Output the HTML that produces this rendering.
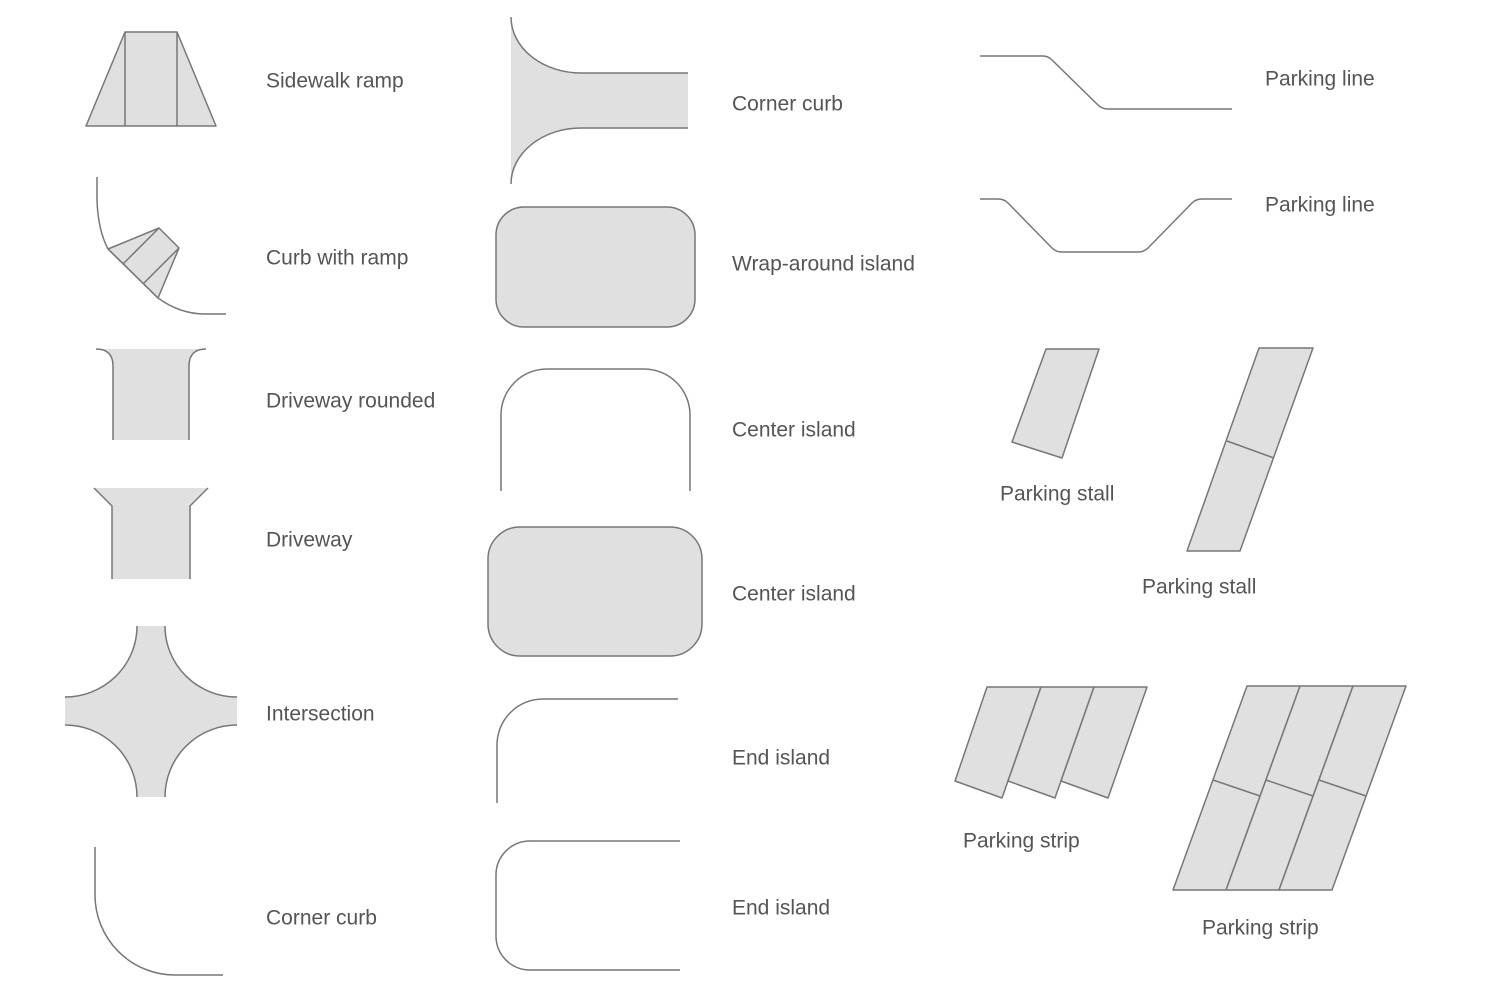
<!DOCTYPE html>
<html><head><meta charset="utf-8"><style>
html,body{margin:0;padding:0;background:#fff}
svg text{font-family:"Liberation Sans",sans-serif;font-size:21px;fill:#555}
</style></head><body>
<svg width="1500" height="994" viewBox="0 0 1500 994" xmlns="http://www.w3.org/2000/svg">
<g stroke="#777" stroke-width="1.5" fill="#e0e0e0" stroke-linejoin="round">
<!-- sidewalk ramp -->
<polygon points="86,126 125,32 177,32 216,126"/>
<line x1="125" y1="32" x2="125" y2="126"/><line x1="177" y1="32" x2="177" y2="126"/>
<!-- curb with ramp -->
<path d="M97,177 L97,200 Q98,230 108,249 M158,298 Q180,314 205,314 L226,314" fill="none"/>
<polygon points="108,249 159,228 179,248 158,298"/>
<line x1="123" y1="264" x2="159" y2="228"/><line x1="143" y1="284" x2="179" y2="248"/>
<line x1="108" y1="249" x2="158" y2="298"/>
<!-- driveway rounded -->
<path d="M96,349 L206,349 Q189,349 189,366 L189,440 L113,440 L113,366 Q113,349 96,349Z" stroke="none"/>
<path d="M96,349 Q113,349 113,366 L113,440 M189,440 L189,366 Q189,349 206,349" fill="none"/>
<!-- driveway -->
<polygon points="94,488 208,488 190,506 190,579 112,579 112,506" stroke="none"/>
<path d="M94,488 L112,506 L112,579 M190,579 L190,506 L208,488" fill="none"/>
<!-- intersection -->
<path d="M137,626 L165,626 A72,71 0 0 0 237,697 L237,725 A72,72 0 0 0 165,797 L137,797 A72,72 0 0 0 65,725 L65,697 A72,71 0 0 0 137,626Z" stroke="none"/>
<path d="M137,626 A72,71 0 0 1 65,697 M165,626 A72,71 0 0 0 237,697 M237,725 A72,72 0 0 0 165,797 M137,797 A72,72 0 0 0 65,725" fill="none"/>
<!-- corner curb -->
<path d="M95,847 L95,895 A80,80 0 0 0 175,975 L223,975" fill="none"/>

<!-- corner curb middle -->
<path d="M511,17 A70,56 0 0 0 581,73 L688,73 L688,128 L581,128 A70,56 0 0 0 511,184Z" stroke="none"/>
<path d="M511,17 A70,56 0 0 0 581,73 L688,73 M688,128 L581,128 A70,56 0 0 0 511,184" fill="none"/>
<!-- wrap-around island -->
<rect x="496" y="207" width="199" height="120" rx="28"/>
<!-- center island outline -->
<path d="M501,491 L501,415 A46,46 0 0 1 547,369 L644,369 A46,46 0 0 1 690,415 L690,491" fill="none"/>
<!-- center island filled -->
<rect x="488" y="527" width="214" height="129" rx="32"/>
<!-- end islands -->
<path d="M497,803 L497,745 A46,46 0 0 1 543,699 L678,699" fill="none"/>
<path d="M680,841 L530,841 A34,34 0 0 0 496,875 L496,936 A34,34 0 0 0 530,970 L680,970" fill="none"/>

<!-- parking lines -->
<path d="M980,56 L1043,56 Q1048,56 1052,60 L1098,105 Q1102,109 1108,109 L1232,109" fill="none"/>
<path d="M980,199 L998,199 Q1004,199 1008,203 L1052,248 Q1056,252 1062,252 L1138,252 Q1144,252 1148,248 L1192,203 Q1196,199 1202,199 L1232,199" fill="none"/>
<!-- stalls -->
<polygon points="1046,349 1099,349 1062,458 1012,442"/>
<polygon points="1259,348 1313,348 1240,551 1187,551"/>
<line x1="1227" y1="441" x2="1274" y2="458"/>
<!-- strip 1 -->
<polygon points="987,687 1041,687 1002,798 955,781"/>
<polygon points="1041,687 1094,687 1055,798 1008,781"/>
<polygon points="1094,687 1147,687 1108,798 1061,781"/>
<!-- strip 2 -->
<polygon points="1247,686 1300,686 1226,890 1173,890"/>
<polygon points="1300,686 1353,686 1279,890 1226,890"/>
<polygon points="1353,686 1406,686 1332,890 1279,890"/>
<line x1="1213" y1="780" x2="1260" y2="796"/>
<line x1="1266" y1="780" x2="1313" y2="796"/>
<line x1="1319" y1="780" x2="1366" y2="796"/>
</g>
<g dominant-baseline="central">
<text x="266" y="81">Sidewalk ramp</text>
<text x="266" y="258">Curb with ramp</text>
<text x="266" y="401">Driveway rounded</text>
<text x="266" y="540">Driveway</text>
<text x="266" y="714">Intersection</text>
<text x="266" y="918">Corner curb</text>
<text x="732" y="104">Corner curb</text>
<text x="732" y="264">Wrap-around island</text>
<text x="732" y="430">Center island</text>
<text x="732" y="594">Center island</text>
<text x="732" y="758">End island</text>
<text x="732" y="908">End island</text>
<text x="1265" y="79">Parking line</text>
<text x="1265" y="205">Parking line</text>
<text x="1000" y="494">Parking stall</text>
<text x="1142" y="587">Parking stall</text>
<text x="963" y="841">Parking strip</text>
<text x="1202" y="928">Parking strip</text>
</g>
</svg>
</body></html>
